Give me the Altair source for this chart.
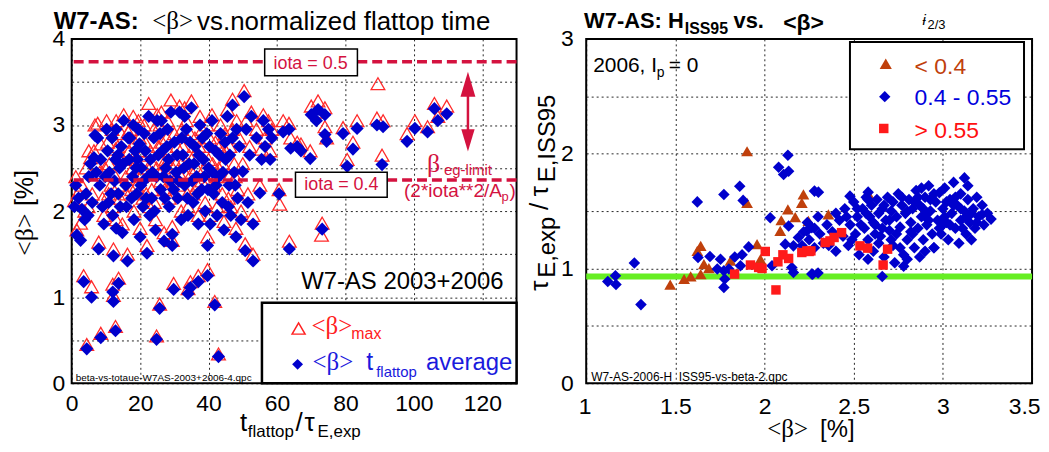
import altair as alt
import pandas as pd

SANS = "Liberation Sans"
SERIF = "Liberation Serif"
BLUE = "#0000cc"
RED_T = "#ff2a2a"
CRIM = "#d4123f"
BROWN = "#c0400c"
RED_SQ = "#ff1a1a"
GREEN = "#66ee22"

# ---------------- left panel: <beta> vs t_flattop/tau_E ----------------
A_t = [2.6, 7.9, 12.2, 16.3, 22.0, 29.4, 29.4, 39.7, 3.5, 5.8, 12.2, 12.0, 13.7, 25.7, 29.8, 34.0, 34.7, 37.0, 39.7, 41.8, 4.4, 8.5, 12.8, 24.8, 42.9]
A_avg = [1.66, 1.56, 1.48, 1.42, 1.51, 1.73, 1.60, 1.60, 1.18, 1.00, 0.95, 1.06, 1.16, 0.87, 1.09, 1.04, 1.11, 1.18, 1.25, 0.91, 0.40, 0.53, 0.61, 0.51, 0.31]
A_max = [1.86, 1.64, 1.56, 1.50, 1.60, 1.82, 1.66, 1.70, 1.25, 1.12, 1.02, 1.15, 1.22, 0.92, 1.16, 1.10, 1.18, 1.25, 1.32, 0.95, 0.45, 0.58, 0.66, 0.55, 0.34]

B1_t = [0.8, 1.5, 1.2, 2.0, 3.0, 4.2, 4.8, 5.5, 5.0, 6.0, 3.8, 6.8, 7.6, 8.5, 8.2, 9.0, 6.5, 9.4, 7.2, 10.5,
        11.0, 11.5, 12.0, 10.2, 12.8, 13.0, 11.8, 14.0, 14.5, 15.2, 15.8, 16.0, 14.8, 16.8, 17.0, 13.6, 17.8, 18.2, 18.5, 19.0,
        19.5, 20.0, 20.4, 20.8, 19.8, 21.0, 22.5, 23.0, 23.4, 24.0, 24.5, 24.8, 22.8, 21.5]
B1_avg = [2.05, 1.72, 2.30, 2.15, 2.02, 2.20, 1.95, 2.55, 2.40, 2.10, 1.90, 2.88, 2.85, 2.60, 2.30, 2.05, 2.62, 1.85, 2.45, 2.70,
          2.45, 2.20, 1.95, 2.95, 2.60, 1.80, 2.85, 2.50, 2.75, 3.05, 2.30, 2.05, 1.75, 2.60, 2.85, 2.20, 2.40, 1.90, 2.70, 2.20,
          2.95, 1.70, 2.50, 2.05, 2.78, 2.35, 3.10, 2.60, 2.15, 2.85, 1.78, 2.40, 1.95, 2.70]
B1_max = [2.12, 1.78, 2.40, 2.22, 2.30, 2.50, 2.05, 2.62, 2.70, 2.20, 2.00, 3.00, 3.02, 2.78, 2.45, 2.15, 2.70, 1.95, 2.55, 2.80,
          2.55, 2.30, 2.05, 3.05, 2.72, 1.90, 2.95, 2.62, 2.90, 3.12, 2.40, 2.20, 1.85, 2.70, 2.95, 2.30, 2.50, 2.00, 2.80, 2.30,
          3.05, 1.80, 2.65, 2.15, 2.85, 2.45, 3.25, 2.70, 2.25, 2.95, 1.90, 2.50, 2.05, 2.80]

B2_t = [25.0, 26.0, 26.5, 27.0, 27.5, 28.0, 28.5, 29.0, 28.8, 30.0, 30.5, 31.0, 31.5, 32.0, 32.5, 33.0, 33.5, 34.0, 34.3, 35.0,
        35.5, 36.0, 36.5, 37.0, 37.5, 38.0, 38.5, 39.0, 39.5, 40.0, 40.5, 41.0, 41.5, 42.0, 42.5, 43.0, 43.5, 44.0, 44.5, 45.0,
        45.5, 46.0, 46.5, 47.0, 47.0, 47.5, 48.0, 48.5, 49.0, 50.4, 50.0, 50.7, 51.0, 51.5, 52.0, 53.0, 53.0, 54.0, 55.0, 52.5,
        55.5, 49.5]
B2_avg = [3.05, 2.25, 2.70, 1.65, 2.50, 2.95, 2.05, 3.15, 2.35, 2.80, 2.45, 2.15, 3.15, 1.90, 2.65, 2.30, 2.95, 1.95, 2.55, 3.20,
          2.10, 2.75, 2.40, 1.85, 3.00, 2.25, 2.60, 2.00, 2.90, 2.50, 1.85, 3.05, 2.20, 2.70, 1.95, 2.40, 2.90, 2.10, 1.78, 2.60,
          3.10, 2.30, 1.95, 3.23, 2.85, 2.45, 1.70, 2.15, 2.75, 3.33, 2.46, 1.54, 2.95, 2.10, 2.65, 1.42, 1.85, 2.85, 2.21, 3.10,
          2.60, 1.90]
B2_max = [3.12, 2.35, 2.80, 1.75, 2.60, 3.05, 2.15, 3.29, 2.55, 2.90, 2.55, 2.30, 3.22, 2.00, 2.75, 2.45, 3.05, 2.05, 2.65, 3.28,
          2.20, 2.85, 2.50, 1.95, 3.10, 2.35, 2.75, 2.10, 3.00, 2.60, 1.95, 3.12, 2.30, 2.80, 2.05, 2.50, 3.00, 2.20, 1.88, 2.70,
          3.18, 2.40, 2.05, 3.30, 2.95, 2.55, 1.80, 2.25, 2.85, 3.40, 2.55, 1.62, 3.05, 2.20, 2.75, 1.50, 1.95, 2.95, 2.30, 3.15,
          2.72, 2.00]

C_t = [9.8, 10.8, 12.5, 13.5, 14.2, 15.0, 16.5, 17.5, 18.8, 19.2, 20.2, 21.2, 21.8, 22.3, 23.6, 24.2, 25.3, 25.8, 26.8, 27.2,
       27.8, 28.3, 29.8, 30.8, 31.3, 32.2, 32.8, 33.8, 34.6, 35.2, 35.8, 36.8, 37.2, 38.2, 38.8, 39.8, 40.3, 41.2, 42.2, 43.2,
       44.2, 44.8, 45.8, 46.2, 47.8, 48.2, 18.0, 26.2, 33.0, 13.0]
C_avg = [2.40, 2.10, 2.35, 2.65, 2.05, 2.55, 2.85, 2.15, 2.50, 2.60, 2.30, 2.90, 2.15, 2.40, 2.45, 2.00, 2.65, 2.90, 2.40, 2.15,
         2.75, 2.60, 2.25, 2.65, 2.35, 2.85, 2.50, 2.15, 2.80, 2.35, 2.55, 2.20, 2.65, 2.85, 2.40, 2.25, 2.75, 2.45, 2.30, 2.65,
         2.45, 2.80, 2.05, 2.65, 2.30, 2.95, 3.00, 3.05, 3.10, 2.95]
C_max = [2.50, 2.20, 2.42, 2.75, 2.15, 2.60, 2.92, 2.25, 2.60, 2.70, 2.40, 3.00, 2.20, 2.50, 2.55, 2.10, 2.75, 3.00, 2.50, 2.25,
         2.85, 2.70, 2.35, 2.75, 2.45, 2.95, 2.60, 2.20, 2.90, 2.45, 2.65, 2.30, 2.75, 2.95, 2.50, 2.35, 2.85, 2.55, 2.40, 2.75,
         2.55, 2.90, 2.15, 2.75, 2.40, 3.05, 3.10, 3.15, 3.20, 3.05]

D_t = [56.0, 58.5, 57.5, 56.5, 58.0, 60.6, 61.8, 64.0, 65.9, 63.5, 67.0, 69.7, 70.0, 72.0, 74.0, 71.5, 74.0, 74.5, 79.3, 83.4,
       82.2, 80.5, 89.2, 91.0, 90.7, 98.0, 100.3, 104.0, 106.0, 107.0, 109.6, 73.2, 63.6]
D_avg = [3.05, 2.85, 2.95, 2.75, 2.60, 2.20, 2.92, 2.73, 2.75, 2.95, 2.70, 2.61, 3.12, 3.18, 3.12, 3.05, 2.89, 2.81, 2.90, 2.96,
         2.72, 2.52, 3.00, 2.98, 2.54, 2.81, 2.96, 2.92, 3.19, 3.05, 3.13, 1.79, 1.56]
D_max = [3.12, 2.95, 3.05, 2.85, 2.70, 2.25, 3.05, 2.85, 2.80, 3.02, 2.78, 2.70, 3.22, 3.28, 3.20, 3.15, 2.98, 2.85, 2.97, 3.05,
         2.80, 2.60, 3.08, 3.05, 2.65, 2.90, 3.05, 2.98, 3.25, 3.10, 3.22, 1.86, 1.65]

tri_only_t = [60.8, 89.5, 73.0]
tri_only_beta = [2.08, 3.48, 1.72]

iota_limits = [3.734, 2.36]

# ---------------- right panel: H_ISS95 vs <beta> ----------------
low_beta = [1.902, 1.902, 1.642, 1.623, 1.660, 1.688, 1.642, 1.586, 1.549, 1.471, 1.809, 1.958, 1.977, 2.218, 2.209, 2.131,
            2.172, 2.094, 2.088, 2.246, 2.358, 2.590]
low_h = [2.021, 1.572, 1.197, 1.153, 1.038, 1.003, 0.951, 0.931, 0.908, 0.859, 1.067, 1.212, 1.081, 1.645, 1.572, 1.515,
         1.448, 1.420, 1.327, 1.414, 1.471, 1.630]

high_beta = [2.004, 1.921, 1.967, 1.986, 1.832, 2.064, 2.075, 2.103, 2.135, 2.209, 2.250, 2.432, 2.367, 2.340, 2.237, 2.260,
             2.535, 2.578, 2.690, 2.665, 2.390]
high_h = [1.148, 1.030, 1.009, 1.000, 0.951, 0.813, 1.058, 1.119, 1.087, 1.139, 1.148, 1.312, 1.240, 1.226, 1.153, 1.153,
          1.197, 1.177, 1.168, 1.030, 1.270]

mid_sparse_beta = [1.121, 1.164, 1.167, 1.270, 1.307, 1.623, 1.772, 1.861, 1.880, 1.627, 1.694, 1.753, 1.735, 1.772, 1.777, 1.772,
                   1.833, 1.874, 1.911, 1.865, 1.800, 2.032, 2.079, 2.107, 2.131, 2.135, 2.135, 2.042, 2.116, 2.162, 2.153, 2.162,
                   2.190, 2.237, 2.265, 2.265, 2.280, 2.302, 2.581, 3.121, 2.479, 2.580, 2.660, 2.270, 2.300, 2.950]
mid_sparse_h = [0.887, 0.937, 0.860, 1.047, 0.685, 1.580, 1.645, 1.717, 1.593, 1.095, 1.104, 1.080, 0.995, 0.980, 0.908, 0.835,
                1.100, 1.119, 1.188, 1.023, 0.995, 1.442, 1.882, 1.818, 1.986, 1.847, 1.370, 1.023, 1.212, 1.197, 1.009, 0.965,
                1.269, 1.327, 1.356, 0.951, 1.674, 1.665, 1.665, 1.789, 1.630, 1.080, 0.930, 0.950, 0.960, 1.180]
mid_b1_beta = [2.36, 2.38, 2.40, 2.42, 2.44, 2.45, 2.47, 2.48, 2.50, 2.51, 2.52, 2.53, 2.55, 2.56, 2.57, 2.58, 2.59, 2.60, 2.61,
               2.62, 2.63, 2.64, 2.65, 2.66, 2.67, 2.68, 2.69, 2.70, 2.71, 2.72, 2.72]
mid_b1_h = [1.20, 1.32, 1.15, 1.42, 1.28, 1.52, 1.20, 1.38, 1.58, 1.30, 1.45, 1.12, 1.52, 1.35, 1.62, 1.25, 1.45, 1.55, 1.15,
            1.38, 1.60, 1.48, 1.28, 1.52, 1.10, 1.42, 1.62, 1.33, 1.50, 1.20, 1.58]
mid_b2_beta = [2.73, 2.74, 2.75, 2.76, 2.77, 2.78, 2.79, 2.80, 2.81, 2.82, 2.83, 2.84, 2.85, 2.78, 2.80, 2.86, 2.87, 2.88, 2.89,
               2.90, 2.91, 2.92, 2.93, 2.94, 2.95, 2.96, 2.97, 2.98, 2.90, 2.87]
mid_b2_h = [1.05, 1.45, 1.65, 1.36, 1.55, 1.12, 1.48, 1.25, 1.60, 1.40, 1.52, 1.18, 1.68, 1.02, 1.08, 1.35, 1.55, 1.45, 1.25,
            1.62, 1.38, 1.72, 1.50, 1.30, 1.18, 1.58, 1.42, 1.66, 1.15, 1.10]
mid_b3_beta = [2.99, 3.00, 3.01, 3.02, 3.03, 3.04, 3.05, 3.06, 3.07, 3.08, 3.09, 3.10, 3.10, 3.12, 3.13, 3.14, 3.15, 3.16, 3.17,
               3.18, 3.20, 3.22, 3.23, 3.25, 3.27, 3.19, 3.14]
mid_b3_h = [1.30, 1.52, 1.70, 1.40, 1.25, 1.60, 1.48, 1.75, 1.35, 1.55, 1.22, 1.65, 1.42, 1.50, 1.30, 1.60, 1.40, 1.25, 1.52,
            1.35, 1.45, 1.55, 1.38, 1.48, 1.43, 1.62, 1.72]
mid_b4_beta = [2.46, 2.49, 2.54, 2.57, 2.61, 2.64, 2.67, 2.70, 2.74, 2.77, 2.80, 2.83, 2.86, 2.89, 2.92, 2.95, 2.98, 3.01, 3.04,
               3.07, 3.10, 3.13, 3.16, 3.19, 3.22, 2.52, 2.58, 2.66, 2.76, 2.84, 2.93, 3.02, 3.11, 2.62, 2.71, 2.82, 2.91, 3.00,
               3.06, 2.88]
mid_b4_h = [1.45, 1.25, 1.38, 1.48, 1.40, 1.22, 1.55, 1.42, 1.30, 1.62, 1.50, 1.30, 1.62, 1.52, 1.42, 1.65, 1.35, 1.45, 1.38,
            1.62, 1.52, 1.45, 1.48, 1.40, 1.47, 1.52, 1.60, 1.35, 1.18, 1.58, 1.60, 1.58, 1.35, 1.30, 1.25, 1.32, 1.48, 1.38,
            1.55, 1.70]
mid_left_beta = [2.21, 2.25, 2.28, 2.31, 2.33, 2.28, 2.35, 2.40, 2.30, 2.24, 2.22]
mid_left_h = [1.20, 1.25, 1.18, 1.30, 1.22, 1.35, 1.38, 1.48, 1.45, 1.40, 1.32]

h_reference = [0.93]

# ---------------- build ----------------
WL, WR, H = 447, 448, 346

left_df = pd.DataFrame({
    "t": A_t + B1_t + B2_t + C_t + D_t,
    "avg": A_avg + B1_avg + B2_avg + C_avg + D_avg,
    "mx": A_max + B1_max + B2_max + C_max + D_max,
})
tri_df = pd.DataFrame({"t": tri_only_t, "mx": tri_only_beta})

grid_kw = dict(grid=True, gridColor="black", gridDash=[2, 3], gridWidth=1, gridOpacity=0.85,
               ticks=False, domain=False, labelFont=SANS, labelColor="black", title=None)
INT_ONLY = "datum.value % 1 == 0 ? format(datum.value, 'd') : ''"

ax_xl = alt.Axis(values=[0, 20, 40, 60, 80, 100, 120], format="d", labelFontSize=23, labelPadding=9,
                 labelFlush=False, **grid_kw)
ax_yl = alt.Axis(values=[0, 0.5, 1, 1.5, 2, 2.5, 3, 3.5, 4], labelExpr=INT_ONLY,
                 labelFontSize=23, labelPadding=7, **grid_kw)
ax_xr = alt.Axis(values=[1, 1.5, 2, 2.5, 3, 3.5], format="~g", labelFontSize=23, labelPadding=12, labelFlush=True,
                 labelFlushOffset=8, **grid_kw)
ax_yr = alt.Axis(values=[0, 0.5, 1, 1.5, 2, 2.5, 3], labelExpr=INT_ONLY,
                 labelFontSize=23, labelPadding=13, **grid_kw)


def XL(f):
    return alt.X(f"{f}:Q", scale=alt.Scale(domain=[0, 130], nice=False, zero=False), axis=ax_xl)


def YL(f):
    return alt.Y(f"{f}:Q", scale=alt.Scale(domain=[0, 4], nice=False, zero=False), axis=ax_yl)


def XR(f):
    return alt.X(f"{f}:Q", scale=alt.Scale(domain=[1, 3.5], nice=False, zero=False), axis=ax_xr)


def YR(f):
    return alt.Y(f"{f}:Q", scale=alt.Scale(domain=[0, 3], nice=False, zero=False), axis=ax_yr)


def txt(s, x, y, size, color="black", font=SANS, weight="normal", angle=0, align="left",
        baseline="alphabetic", style="normal"):
    return alt.Chart(pd.DataFrame({"s": [s]})).mark_text(
        text=s, font=font, fontSize=size, color=color, fontWeight=weight, angle=angle,
        align=align, baseline=baseline, fontStyle=style
    ).encode(x=alt.value(x), y=alt.value(y))


def anchor(x, y):
    return alt.Chart(pd.DataFrame({"a": [0]})).mark_rect(opacity=0).encode(
        x=alt.value(x), x2=alt.value(x + 1), y=alt.value(y), y2=alt.value(y + 1))


def pt(x, y, shape, size, color, filled=True, sw=1):
    return alt.Chart(pd.DataFrame({"a": [0]})).mark_point(
        shape=shape, size=size, color=color, filled=filled, opacity=1, strokeWidth=sw
    ).encode(x=alt.value(x), y=alt.value(y))


# --- left layers
l_tri = alt.Chart(left_df).mark_point(shape="triangle-up", filled=False, color=RED_T, size=190,
                                      strokeWidth=1.3, opacity=1).encode(x=XL("t"), y=YL("mx"))
l_tri2 = alt.Chart(tri_df).mark_point(shape="triangle-up", filled=False, color=RED_T, size=190,
                                      strokeWidth=1.3, opacity=1).encode(x=XL("t"), y=YL("mx"))
l_dia = alt.Chart(left_df).mark_point(shape="diamond", filled=True, color=BLUE, size=175,
                                      opacity=1).encode(x=XL("t"), y=YL("avg"))
l_lim = alt.Chart(pd.DataFrame({"b": iota_limits})).mark_rule(
    color=CRIM, strokeWidth=3.5, strokeDash=[10, 5]).encode(y=YL("b"))
box_df = pd.DataFrame({"x0": [56.4, 65.4], "x1": [83.5, 92.2], "y0": [3.884, 2.45], "y1": [3.572, 2.16]})
l_box = alt.Chart(box_df).mark_rect(fill="white", stroke="black", strokeWidth=1.5).encode(
    x=XL("x0"), x2="x1", y=YL("y0"), y2="y1")
arrow_df = pd.DataFrame({"x": [115.8], "y0": [3.45], "y1": [2.85]})
l_arrow = alt.Chart(arrow_df).mark_rule(color=CRIM, strokeWidth=2.5).encode(x=XL("x"), y=YL("y0"), y2="y1")
head_up = alt.Chart(pd.DataFrame({"x": [115.8], "y": [3.474]})).mark_point(
    shape="M0,-1L0.6,1L-0.6,1Z", size=625, filled=True, color=CRIM, opacity=1).encode(x=XL("x"), y=YL("y"))
head_dn = alt.Chart(pd.DataFrame({"x": [115.8], "y": [2.821]})).mark_point(
    shape="M0,1L0.6,-1L-0.6,-1Z", size=500, filled=True, color=CRIM, opacity=1).encode(x=XL("x"), y=YL("y"))
leg_box = alt.Chart(pd.DataFrame({"x0": [55.6], "x1": [130], "y0": [0.936], "y1": [0]})).mark_rect(
    fill="white", stroke="black", strokeWidth=2.5).encode(x=XL("x0"), x2="x1", y=YL("y0"), y2="y1")

left_layers = [
    l_tri, l_tri2, l_dia, l_lim, l_box,
    txt("iota = 0.5", 240, 30, 18, CRIM, align="center"),
    txt("iota = 0.4", 271, 152, 18, CRIM, align="center"),
    l_arrow, head_up, head_dn,
    txt("β", 357, 134, 26, CRIM, font=SERIF),
    txt("eg-limit", 374, 137, 15, CRIM),
    txt("(2*iota**2/A", 334, 159, 19, CRIM),
    txt("p", 432, 163, 13, CRIM),
    txt(")", 440, 159, 19, CRIM),
    txt("W7-AS 2003+2006", 434, 251, 24, "black", align="right"),
    leg_box,
    pt(228, 291, "triangle-up", 170, "#ff2020", filled=False, sw=1.5),
    txt("<β>", 241, 297, 25, "#ff2020", font=SERIF),
    txt("max", 281, 302, 16, "#ff2020"),
    pt(227, 327, "diamond", 120, BLUE),
    txt("<β>", 242, 333, 25, "#1a1add", font=SERIF),
    txt("t", 296, 333, 25, "#1a1add"),
    txt("flattop", 306, 340, 15, "#1a1add"),
    txt("average", 356, 333, 24, "#1a1add"),
    txt("beta-vs-totaue-W7AS-2003+2006-4.qpc", 4, 344, 10),
    # title
    txt("W7-AS:", -18, -10, 24, weight="bold"),
    txt("<β>", 81, -10, 25, font=SERIF),
    txt("vs.normalized flattop time", 126, -9, 26),
    # x title
    txt("t", 169, 394, 26),
    txt("flattop", 177, 400, 17),
    txt("/", 225, 394, 26),
    txt("τ", 234, 394, 26),
    txt("E,exp", 247, 400, 17),
    # y title
    txt("<β>", -39, 218, 26, font=SERIF, angle=270),
    txt("[%]", -39, 168, 25, angle=270),
    anchor(-63, -32),
]
left = alt.layer(*left_layers).properties(width=WL, height=H)

# --- right layers
low_df = pd.DataFrame({"b": low_beta, "h": low_h})
high_df = pd.DataFrame({"b": high_beta, "h": high_h})
mid_df = pd.DataFrame({
    "b": mid_sparse_beta + mid_left_beta + mid_b1_beta + mid_b2_beta + mid_b3_beta + mid_b4_beta,
    "h": mid_sparse_h + mid_left_h + mid_b1_h + mid_b2_h + mid_b3_h + mid_b4_h,
})
r_green = alt.Chart(pd.DataFrame({"h": h_reference})).mark_rule(color=GREEN, strokeWidth=6).encode(y=YR("h"))
r_low = alt.Chart(low_df).mark_point(shape="triangle-up", filled=True, color=BROWN, size=140, opacity=1).encode(
    x=XR("b"), y=YR("h"))
r_mid = alt.Chart(mid_df).mark_point(shape="diamond", filled=True, color=BLUE, size=135, opacity=1).encode(
    x=XR("b"), y=YR("h"))
r_high = alt.Chart(high_df).mark_point(shape="square", filled=True, color=RED_SQ, size=90, opacity=1).encode(
    x=XR("b"), y=YR("h"))
r_leg = alt.Chart(pd.DataFrame({"x0": [2.479], "x1": [3.455], "y0": [2.974], "y1": [2.038]})).mark_rect(
    fill="white", stroke="black", strokeWidth=2).encode(x=XR("x0"), x2="x1", y=YR("y0"), y2="y1")

right_layers = [
    r_green, r_low, r_mid, r_high, r_leg,
    pt(301, 25, "triangle-up", 150, BROWN),
    txt("< 0.4", 330, 35, 23, BROWN),
    pt(300, 58, "diamond", 130, BLUE),
    txt("0.4 - 0.55", 330, 66, 23, "#0000dd"),
    pt(299, 90, "square", 90, RED_SQ),
    txt("> 0.55", 330, 100, 23, "#ff1010"),
    txt("2006, I", 7, 33, 21),
    txt("p", 71, 38, 14),
    txt(" = 0", 83, 33, 21),
    txt("W7-AS-2006-H_ISS95-vs-beta-2.qpc", 5, 344, 12),
    # title
    txt("W7-AS: H", 98, -11, 22, weight="bold", align="right"),
    txt("ISS95", 99, -5, 16, weight="bold"),
    txt("vs.", 148, -11, 22, weight="bold"),
    txt("<β>", 198, -9, 23, weight="bold"),
    txt("ɨ", 338, -14, 15, style="italic"),
    txt("2/3", 343, -10, 13),
    # x title
    txt("<β>", 182, 400, 25, font=SERIF),
    txt("[%]", 235, 400, 24),
    # y title
    txt("τ", -38, 253, 26, angle=270),
    txt("E,exp", -31, 240, 24, angle=270),
    txt("/", -38, 172, 26, angle=270),
    txt("τ", -38, 158, 26, angle=270),
    txt("E,ISS95", -31, 144, 24, angle=270),
    anchor(-60, -30),
]
right = alt.layer(*right_layers).properties(width=WR, height=H)

chart = alt.hconcat(left, right, spacing=6).properties(
    padding={"left": 0, "top": -3, "right": 0, "bottom": 0}, background="white"
).configure_view(stroke="black", strokeWidth=2)

chart.save("out.html", embed_options={"renderer": "svg", "actions": False})
